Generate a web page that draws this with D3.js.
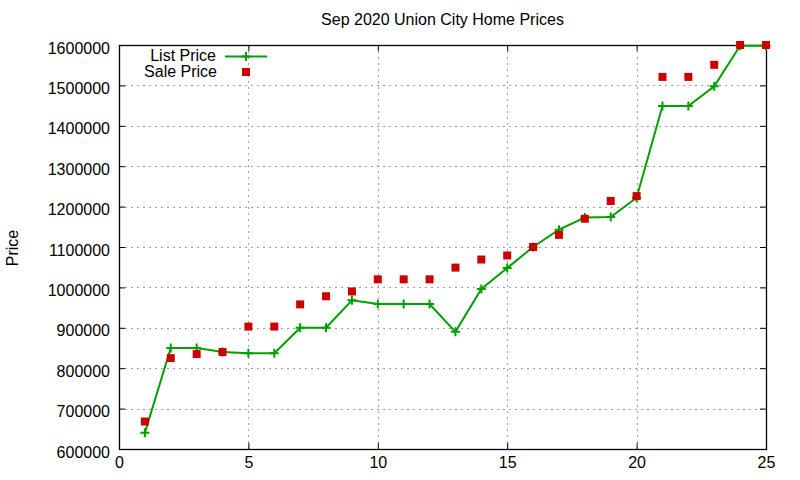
<!DOCTYPE html>
<html>
<head>
<meta charset="utf-8">
<script src="https://cdn.jsdelivr.net/npm/d3@7"></script>
<style>
  body { margin: 0; background: #fff; }
  text { font-family: "Liberation Sans", Arial, sans-serif; fill: #000; }
</style>
</head>
<body>
<div id="chart"></div>
<script>
// chart data
const entries = [1, 2, 3, 4, 5, 6, 7, 8, 9, 10, 11, 12, 13, 14, 15, 16, 17, 18, 19, 20, 21, 22, 23, 24, 25];
const listPrice = [640000, 850000, 850000, 840000, 837000, 837000, 900000, 900000, 968000, 959000,
                   959000, 959000, 890000, 996000, 1048000, 1100000, 1143000, 1173000, 1174000, 1222000,
                   1449000, 1449000, 1498000, 1598000, 1598000];
const salePrice = [668000, 825000, 835000, 840000, 903000, 903000, 958000, 978000, 990000, 1020000,
                   1020000, 1020000, 1049000, 1069000, 1079000, 1100000, 1130000, 1170000, 1214000, 1226000,
                   1521000, 1521000, 1551000, 1600000, 1600000];
const xTicks = [0, 5, 10, 15, 20, 25];
const yTicks = [600000, 700000, 800000, 900000, 1000000, 1100000, 1200000, 1300000, 1400000, 1500000, 1600000];
const seriesNames = ["List Price", "Sale Price"];

function init(){
    const W = 800, H = 480;
    const margin = { top: 45, right: 34, bottom: 31, left: 119 };
    const width = W - margin.left - margin.right;
    const height = H - margin.top - margin.bottom;
    const green = "#00a000", red = "#cc0000";

    const root = d3.select("#chart").append("svg")
        .attr("width", W).attr("height", H);
    const svg = root.append("g")
        .attr("transform", `translate(${margin.left}, ${margin.top})`);

    const x = d3.scaleLinear().domain([0, 25]).range([0, width]);
    const y = d3.scaleLinear().domain([600000, 1600000]).range([height, 0]);

    // grid
    const grid = svg.append("g").attr("class", "grid");
    grid.selectAll(".gx").data(xTicks).enter().append("line")
        .attr("x1", d => Math.round(x(d)) + 0.5).attr("x2", d => Math.round(x(d)) + 0.5)
        .attr("y1", 0).attr("y2", height);
    grid.selectAll(".gy").data(yTicks).enter().append("line")
        .attr("x1", 0).attr("x2", width)
        .attr("y1", d => Math.round(y(d)) + 0.5).attr("y2", d => Math.round(y(d)) + 0.5);
    grid.selectAll("line")
        .attr("stroke", "#a0a0a0").attr("stroke-width", 1)
        .attr("stroke-dasharray", "2,4");

    // axes (ticks point inward, mirrored on top and right)
    const fmt = d3.format("d");
    const ax = svg.append("g")
        .attr("transform", `translate(0, ${height})`)
        .call(d3.axisBottom(x).tickValues(xTicks).tickSizeInner(-6).tickSizeOuter(0).tickPadding(12).tickFormat(fmt));
    const ay = svg.append("g")
        .call(d3.axisLeft(y).tickValues(yTicks).tickSizeInner(-6).tickSizeOuter(0).tickPadding(9).tickFormat(fmt));
    const axTop = svg.append("g")
        .call(d3.axisTop(x).tickValues(xTicks).tickSizeInner(-6).tickSizeOuter(0).tickFormat(""));
    const ayRight = svg.append("g")
        .attr("transform", `translate(${width}, 0)`)
        .call(d3.axisRight(y).tickValues(yTicks).tickSizeInner(-6).tickSizeOuter(0).tickFormat(""));

    [ax, ay, axTop, ayRight].forEach(g => {
        g.select(".domain").remove();
        g.selectAll("line").attr("stroke", "#000");
        g.selectAll("text").style("font-size", "16px")
         .style("font-family", "'Liberation Sans', Arial, sans-serif");
    });
    ax.selectAll("text").attr("dy", "0.45em");
    ay.selectAll("text").attr("dy", "0.5em");

    // border
    svg.append("rect")
        .attr("x", 0.5).attr("y", 0.5)
        .attr("width", width).attr("height", height)
        .attr("fill", "none").attr("stroke", "#000").attr("stroke-width", 1.3);

    // list price line
    const line = d3.line()
        .x((d, i) => x(entries[i]))
        .y(d => y(d));
    svg.append("path")
        .datum(listPrice)
        .attr("d", line)
        .attr("fill", "none")
        .attr("stroke", green)
        .attr("stroke-width", 2);

    const drawPlus = (g, cx, cy) => {
        g.append("path")
         .attr("d", `M${cx - 4.5},${cy}H${cx + 4.5}M${cx},${cy - 4.5}V${cy + 4.5}`)
         .attr("stroke", green).attr("stroke-width", 2);
    };
    listPrice.forEach((d, i) => drawPlus(svg, x(entries[i]), y(d)));

    // sale price squares
    svg.selectAll(".sale")
        .data(salePrice)
        .enter().append("rect")
        .attr("x", (d, i) => x(entries[i]) - 4)
        .attr("y", d => y(d) - 4)
        .attr("width", 8).attr("height", 8)
        .attr("fill", red);

    // title
    root.append("text")
        .attr("x", margin.left + width / 2)
        .attr("y", 25)
        .attr("text-anchor", "middle")
        .style("font-size", "16px")
        .text("Sep 2020 Union City Home Prices");

    // y label
    root.append("text")
        .attr("transform", "rotate(-90)")
        .attr("x", -248)
        .attr("y", 18)
        .attr("text-anchor", "middle")
        .style("font-size", "16px")
        .text("Price");

    // legend
    const legend = root.append("g");
    legend.append("text")
        .attr("x", 216).attr("y", 61)
        .attr("text-anchor", "end")
        .style("font-size", "16px")
        .text(seriesNames[0]);
    legend.append("line")
        .attr("x1", 225).attr("x2", 267).attr("y1", 56.5).attr("y2", 56.5)
        .attr("stroke", green).attr("stroke-width", 2);
    drawPlus(legend, 246, 56.5);
    legend.append("text")
        .attr("x", 217).attr("y", 77)
        .attr("text-anchor", "end")
        .style("font-size", "16px")
        .text(seriesNames[1]);
    legend.append("rect")
        .attr("x", 242).attr("y", 68).attr("width", 8).attr("height", 8)
        .attr("fill", red);
}
window.onload = init;
</script>
</body>
</html>
